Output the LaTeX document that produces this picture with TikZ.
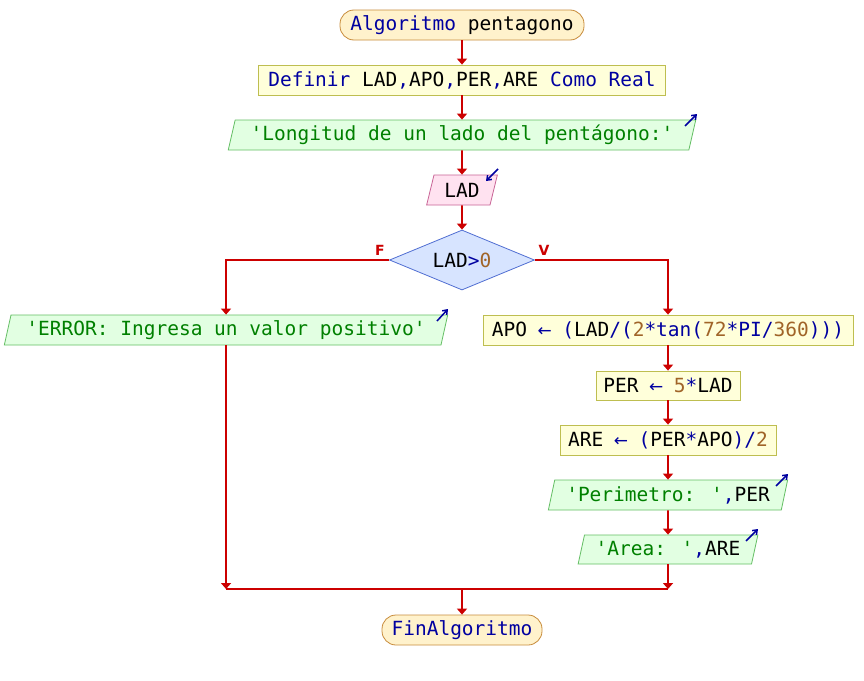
\documentclass[tikz,border=0pt]{standalone}
\usepackage{fontspec}
\usetikzlibrary{shapes.geometric,arrows.meta}
\newfontfamily\code{DejaVu Sans Mono}
\newfontfamily\symf{DejaVu Sans}
\definecolor{kwc}{RGB}{0,0,160}
\definecolor{stc}{RGB}{0,128,0}
\definecolor{nmc}{RGB}{160,100,40}
\definecolor{arc}{RGB}{204,0,0}
\definecolor{termfill}{RGB}{255,242,204}
\definecolor{termdraw}{RGB}{200,140,60}
\definecolor{procfill}{RGB}{255,255,218}
\definecolor{procdraw}{RGB}{190,190,80}
\definecolor{outfill}{RGB}{226,255,226}
\definecolor{outdraw}{RGB}{100,190,100}
\definecolor{infill}{RGB}{255,226,240}
\definecolor{indraw}{RGB}{200,100,150}
\definecolor{condfill}{RGB}{215,228,255}
\definecolor{conddraw}{RGB}{80,110,210}
\newcommand\ckw[1]{\textcolor{kwc}{#1}}
\newcommand\cst[1]{\textcolor{stc}{#1}}
\newcommand\cnm[1]{\textcolor{nmc}{#1}}
\newcommand\aq{\char"27\relax}
\newcommand\asg{\textcolor{kwc}{\makebox[11.7pt]{\symf\fontsize{17}{20}\selectfont ←}}}
\tikzset{
  base/.style={inner sep=0pt, font=\code\fontsize{19.5}{22}\selectfont, text=black, line width=0.8pt},
  termbox/.style={base, rectangle, rounded corners=14pt, fill=termfill, draw=termdraw, minimum height=30pt},
  procbox/.style={base, rectangle, fill=procfill, draw=procdraw, minimum height=30pt},
  outbox/.style={base, trapezium, trapezium left angle=72, trapezium right angle=108, trapezium stretches=true, fill=outfill, draw=outdraw, minimum height=30pt},
  inbox/.style={base, trapezium, trapezium left angle=72, trapezium right angle=108, trapezium stretches=true, fill=infill, draw=indraw, minimum height=30pt},
  condbox/.style={base, diamond, aspect=2.4, fill=condfill, draw=conddraw, minimum width=145pt, minimum height=60pt},
  arr/.style={draw=arc, line width=1.8pt, -{Triangle[width=10pt,length=6pt]}},
  flow/.style={draw=arc, line width=1.8pt},
  icon/.style={draw=kwc, line width=1.5pt, -{Straight Barb[length=4pt,width=6pt]}},
  brlabel/.style={text=arc, font=\symf\bfseries\fontsize{14}{16}\selectfont, inner sep=0pt}
}
\begin{document}
\begin{tikzpicture}[x=1pt,y=-1pt]
\useasboundingbox[fill=white] (0,0) rectangle (864,680);
\node[termbox, minimum width=244pt] (start) at (462,25) {\ckw{Algoritmo} pentagono};
\node[procbox, minimum width=407pt] (defn) at (462,80) {\ckw{Definir} LAD\ckw{,}APO\ckw{,}PER\ckw{,}ARE \ckw{Como Real}};
\node[outbox, minimum width=469pt] (out1) at (462,135) {\cst{\aq Longitud de un lado del pentágono:\aq}};
\node[inbox, minimum width=71pt] (in1) at (462,190) {LAD};
\node[condbox] (cond) at (462,260) {LAD\ckw{>}\cnm{0}};
\node[outbox, minimum width=444pt] (err) at (226,330) {\cst{\aq ERROR: Ingresa un valor positivo\aq}};
\node[procbox, minimum width=370pt] (apo) at (668,330) {APO \asg\ \ckw{(}LAD\ckw{/(}\cnm{2}\ckw{*tan(}\cnm{72}\ckw{*PI/}\cnm{360}\ckw{)))}};
\node[procbox, minimum width=144pt, minimum height=29pt] (per) at (668,385.5) {PER \asg\ \cnm{5}\ckw{*}LAD};
\node[procbox, minimum width=216pt] (are) at (668,440) {ARE \asg\ \ckw{(}PER\ckw{*}APO\ckw{)/}\cnm{2}};
\node[outbox, minimum width=240pt] (out2) at (668,495) {\cst{\aq Perimetro: \aq}\ckw{,}PER};
\node[outbox, minimum width=180pt, minimum height=29pt] (out3) at (668,549.5) {\cst{\aq Area: \aq}\ckw{,}ARE};
\node[termbox, minimum width=160pt] (end) at (462,630) {\ckw{FinAlgoritmo}};
\coordinate (m) at (462,589);
% connectors
\draw[arr] (start) -- (defn);
\draw[arr] (defn) -- (out1);
\draw[arr] (out1) -- (in1);
\draw[arr] (in1) -- (cond);
\draw[arr] (cond.west) -| (err.north);
\draw[arr] (cond.east) -| (apo.north);
\draw[arr] (apo) -- (per);
\draw[arr] (per) -- (are);
\draw[arr] (are) -- (out2);
\draw[arr] (out2) -- (out3);
\draw[arr] (err.south) -- (err.south |- m);
\draw[arr] (out3.south) -- (out3.south |- m);
\draw[flow] (err.south |- m) -- (out3.south |- m);
\draw[arr] (m) -- (end);
% branch labels
\node[brlabel] (lf) at (380,250) {F};
\node[brlabel] (lv) at (544,250) {V};
% io icons
\draw[icon] (685,126) -- (697,114);
\draw[icon] (498,169) -- (486,181);
\draw[icon] (437,321) -- (448,309);
\draw[icon] (776,486) -- (788,474);
\draw[icon] (746,541) -- (758,529);
\end{tikzpicture}
\end{document}
